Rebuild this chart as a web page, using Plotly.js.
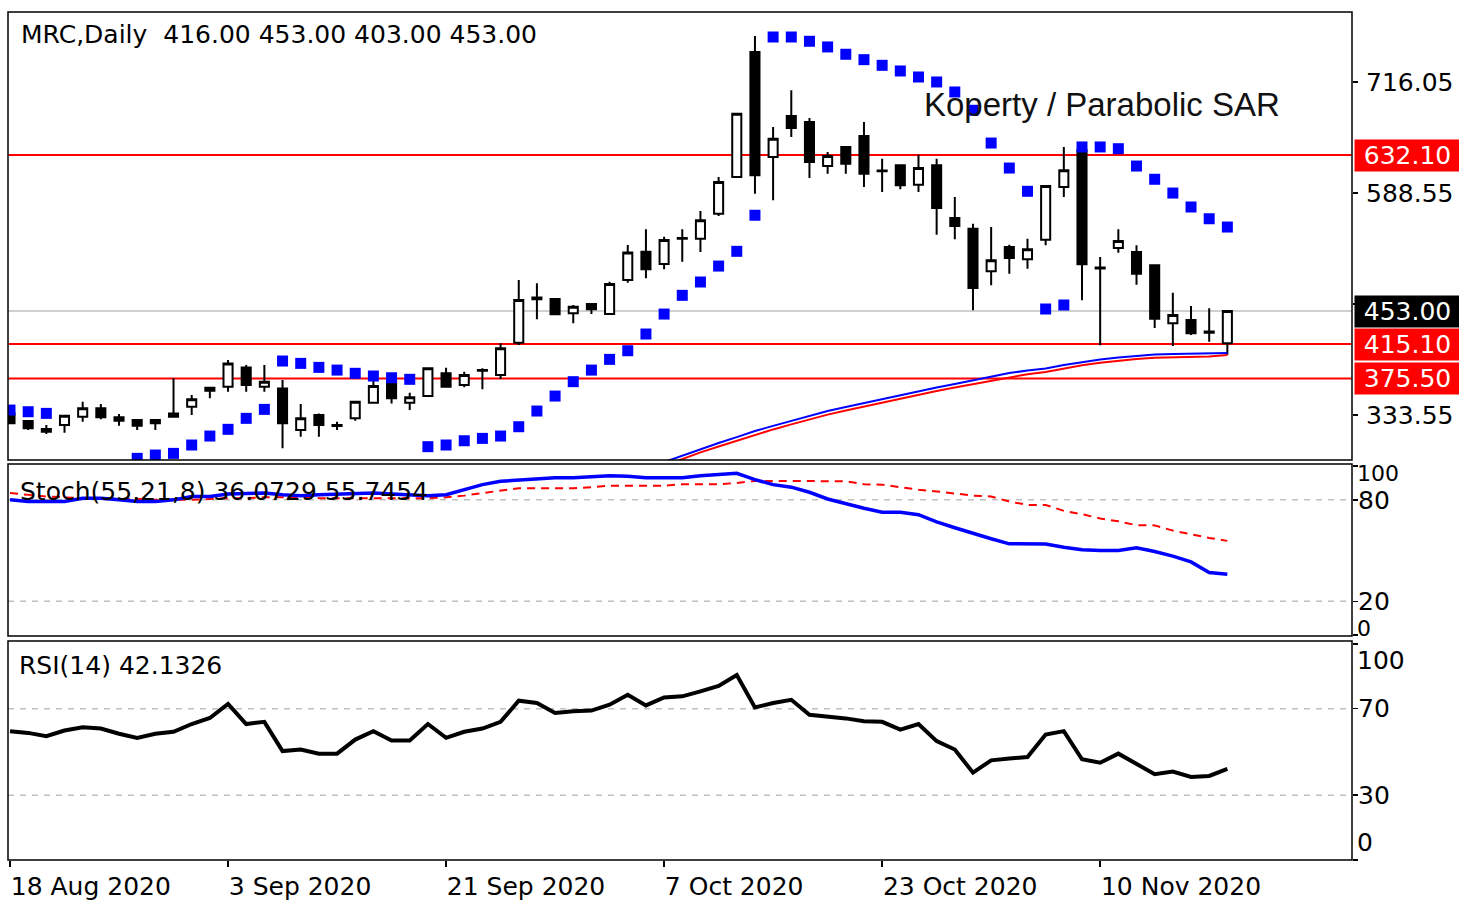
<!DOCTYPE html>
<html><head><meta charset="utf-8">
<script src="https://cdn.plot.ly/plotly-3.0.1.min.js"></script>
<style>html,body{margin:0;padding:0;background:#fff;}#chart{width:1459px;height:903px;}</style>
</head><body><div id="chart"></div>
<script>
const dates = ['2020-08-18','2020-08-19','2020-08-20','2020-08-21','2020-08-24','2020-08-25','2020-08-26','2020-08-27','2020-08-28','2020-08-31',
'2020-09-01','2020-09-02','2020-09-03','2020-09-04','2020-09-07','2020-09-08','2020-09-09','2020-09-10','2020-09-11','2020-09-14',
'2020-09-15','2020-09-16','2020-09-17','2020-09-18','2020-09-21','2020-09-22','2020-09-23','2020-09-24','2020-09-25','2020-09-28',
'2020-09-29','2020-09-30','2020-10-01','2020-10-02','2020-10-05','2020-10-06','2020-10-07','2020-10-08','2020-10-09','2020-10-12',
'2020-10-13','2020-10-14','2020-10-15','2020-10-16','2020-10-19','2020-10-20','2020-10-21','2020-10-22','2020-10-23','2020-10-26',
'2020-10-27','2020-10-28','2020-10-29','2020-10-30','2020-11-02','2020-11-03','2020-11-04','2020-11-05','2020-11-06','2020-11-09',
'2020-11-10','2020-11-12','2020-11-13','2020-11-16','2020-11-17','2020-11-18','2020-11-19','2020-11-20'];
const tickDates = ['2020-08-18','2020-09-03','2020-09-21','2020-10-07','2020-10-23','2020-11-10'];
const tickLabels = ['18 Aug 2020','3 Sep 2020','21 Sep 2020','7 Oct 2020','23 Oct 2020','10 Nov 2020'];

const open  = [335.6,326.8,317.6,322.2,331.7,341.4,331.1,327.9,327.9,335.6,
343.2,365.0,366.2,388.4,366.2,364.3,316.5,333.7,322.2,329.9,
347.8,371.9,347.8,355.5,381.6,368.1,385.5,379.6,416.7,468.5,
466.9,450.4,461.1,449.6,488.7,521.2,507.1,536.0,536.1,564.8,
606.9,750.4,629.9,676.9,670.1,619.5,641.4,654.0,614.5,620.3,
598.1,620.3,559.9,547.6,498.7,526.6,512.4,535.0,595.4,637.6,
503.0,525.4,520.8,505.5,439.0,442.8,429.5,416.0];
const high  = [336.5,327.5,322.2,333.5,348.9,346.3,334.8,328.5,328.5,375.8,
356.6,365.5,396.8,391.1,391.1,373.9,346.3,335.6,326.0,349.5,
375.8,377.6,359.3,388.0,388.0,383.4,387.3,416.0,488.7,484.9,
467.5,460.0,461.5,486.7,528.9,546.9,538.4,546.9,567.9,606.9,
680.5,768.8,664.3,706.4,674.6,635.6,642.0,670.1,627.9,620.8,
632.5,627.9,584.0,553.3,549.5,529.2,536.1,597.5,641.4,641.4,
515.1,546.9,528.5,506.0,474.1,458.8,456.2,453.0];
const low   = [323.0,316.5,311.9,313.4,326.0,328.8,321.4,316.5,316.5,330.5,
333.7,352.9,360.4,360.4,360.4,295.5,308.8,308.8,316.5,327.2,
347.0,347.0,339.4,355.0,365.8,365.5,363.2,375.0,414.0,443.6,
449.0,439.0,449.6,449.0,485.6,490.6,501.0,509.7,520.8,562.1,
606.0,587.8,580.2,652.8,605.8,610.7,610.7,595.4,589.7,592.8,
589.7,540.7,535.4,453.9,482.6,495.9,501.6,528.5,584.0,465.4,
413.7,520.0,483.3,433.6,412.9,425.5,417.9,403.0];
const close = [324.2,318.4,314.5,332.9,341.4,331.1,327.2,321.4,324.2,331.7,
351.7,361.6,393.0,368.1,372.0,324.2,329.9,322.2,321.0,349.0,
367.0,352.9,354.0,387.3,366.2,379.6,384.5,410.3,465.7,466.5,
449.3,458.0,455.0,484.1,520.4,501.0,534.6,537.0,557.2,601.2,
679.6,608.9,650.9,663.2,624.1,631.0,622.2,610.7,613.5,597.4,
617.2,571.3,550.7,479.5,511.3,514.0,523.9,596.6,614.6,506.7,
502.0,533.4,495.9,444.2,448.5,427.5,428.2,453.0];
const sar = [339.4,337.5,335.6,null,null,null,null,284.0,287.8,289.7,
299.3,309.6,317.3,329.9,340.2,395.7,393.0,388.4,385.3,381.6,
378.5,376.5,374.7,297.4,299.3,304.2,306.9,309.6,320.3,338.3,
355.5,372.0,385.3,397.6,407.5,426.7,449.6,471.1,486.4,504.7,
521.6,563.0,767.6,767.6,762.7,756.2,747.8,741.6,735.1,728.6,
721.7,716.0,704.5,683.5,645.9,617.2,590.5,455.4,460.0,641.4,
641.4,639.4,619.5,604.3,588.5,572.5,559.0,549.5];
const maBlue = [null,null,null,null,null,null,null,null,null,null,
null,null,null,null,null,null,null,null,null,null,
null,null,null,null,null,null,null,null,null,null,
null,null,null,null,null,null,279.7,287.2,294.7,301.6,
308.4,315.3,321.3,327.0,333.1,338.3,342.9,347.5,352.1,356.7,
361.3,365.3,369.3,373.3,377.3,381.9,384.8,387.1,391.1,394.6,
397.4,399.7,401.4,403.2,403.7,404.1,404.3,404.9];
const maRed = [null,null,null,null,null,null,null,null,null,null,
null,null,null,null,null,null,null,null,null,null,
null,null,null,null,null,null,null,null,null,null,
null,null,null,null,null,null,275.5,283.2,290.8,297.6,
304.3,311.1,317.2,323.0,328.9,334.2,338.8,343.4,348.0,352.6,
357.2,361.2,365.2,369.1,373.0,377.1,380.6,383.2,387.3,390.8,
393.6,396.0,397.9,399.6,400.1,400.5,400.8,402.5];
const stochMain = [80,79,79,79,81,81,80,79,79,80,
82,82,83.5,84,84,83,82.5,83,83.5,84,
84,83.5,83,82.5,83,86,89,91,91.8,92.5,
93.1,93.1,93.8,94.3,94,93.1,93.1,93.1,94.3,95.2,
95.7,92,89,87.5,84.5,80.5,77.5,75,72.7,72.7,
71.2,67,63.5,60,57,54,53.9,53.9,52,50.5,
50,50,51.6,49.5,46.7,43.3,37,36.07];
const stochSignal = [84,83,82,81.5,81,81,80.5,80.5,80,80,
80,80.5,81,81,81.5,81.5,81.5,81,81,81,
81,81,81,81,81.5,82.5,84,85.5,86.9,86.9,
86.9,86.9,87.5,88.4,88.4,88.4,88.4,89.2,89.2,89.2,
90,91.2,91.2,91.2,91.2,91.2,91,89.2,89,87.5,
86,85,83.9,82.5,82,79,77,77,73.5,71.5,
69,67.3,65,64.9,61.8,59.5,57.5,55.75];
const rsi = [59.6,58.8,57.3,59.9,61.4,60.8,58.4,56.5,58.4,59.3,
62.9,65.7,72.2,62.9,63.9,50.4,51.1,49.2,49.2,55.7,
59.6,55.3,55.3,62.9,56.5,59.3,60.8,63.9,73.7,72.6,
68.0,68.8,69.1,71.8,76.4,71.5,75.2,75.7,78.0,80.5,
85.6,70.6,72.6,74.1,67.2,66.5,65.5,64.2,63.9,60.3,
62.9,55.0,51.1,40.4,46.1,47.0,47.6,58.0,59.6,46.6,
45.0,49.2,44.6,39.7,40.9,38.4,38.9,42.13];

const redLevels = [632.10, 415.10, 375.50];
const lastPrice = 453.00;
const priceTicks = [333.55, 461.05, 588.55, 716.05];
const priceTickText = ['333.55', '', '588.55', '716.05'];
const stochLevels = [80, 20];
const rsiLevels = [70, 30];

const FONT = 'DejaVu Sans';

const traces = [
  {type:'scatter', mode:'lines', x:dates, y:maRed, xaxis:'x', yaxis:'y', line:{color:'#ff0000', width:2}, hoverinfo:'skip'},
  {type:'scatter', mode:'lines', x:dates, y:maBlue, xaxis:'x', yaxis:'y', line:{color:'#0000ff', width:2}, hoverinfo:'skip'},
  {type:'candlestick', x:dates, open:open, high:high, low:low, close:close, xaxis:'x', yaxis:'y',
   increasing:{line:{color:'#000', width:2}, fillcolor:'#ffffff'},
   decreasing:{line:{color:'#000', width:2}, fillcolor:'#000000'}, hoverinfo:'skip'},
  {type:'scatter', mode:'markers', x:dates, y:sar, xaxis:'x', yaxis:'y', marker:{symbol:'square', size:11, color:'#0000ff'}, hoverinfo:'skip'},
  {type:'scatter', mode:'lines', x:dates, y:stochSignal, xaxis:'x', yaxis:'y2', line:{color:'#ff0000', width:2, dash:'8px,6px'}, hoverinfo:'skip'},
  {type:'scatter', mode:'lines', x:dates, y:stochMain, xaxis:'x', yaxis:'y2', line:{color:'#0000ff', width:3.5}, hoverinfo:'skip'},
  {type:'scatter', mode:'lines', x:dates, y:rsi, xaxis:'x', yaxis:'y3', line:{color:'#000000', width:4}, hoverinfo:'skip'}
];

const shapes = [];
redLevels.forEach(v => shapes.push({type:'line', xref:'paper', x0:0, x1:1, yref:'y', y0:v, y1:v, line:{color:'#ff0000', width:2}, layer:'below'}));
shapes.push({type:'line', xref:'paper', x0:0, x1:1, yref:'y', y0:lastPrice, y1:lastPrice, line:{color:'#c0c0c0', width:1.5}, layer:'below'});
stochLevels.forEach(v => shapes.push({type:'line', xref:'paper', x0:0, x1:1, yref:'y2', y0:v, y1:v, line:{color:'#c0c0c0', width:1.5, dash:'6px,6px'}, layer:'below'}));
rsiLevels.forEach(v => shapes.push({type:'line', xref:'paper', x0:0, x1:1, yref:'y3', y0:v, y1:v, line:{color:'#c0c0c0', width:1.5, dash:'6px,6px'}, layer:'below'}));
['y domain','y2 domain','y3 domain'].forEach(r => shapes.push({type:'rect', xref:'paper', x0:0, x1:1, yref:r, y0:0, y1:1, line:{color:'#000', width:1.5}, fillcolor:'rgba(0,0,0,0)'}));

const annotations = [];
function boxLabel(val, bg) {
  annotations.push({xref:'paper', x:1, xanchor:'left', xshift:2, yref:'y', y:val, yanchor:'middle',
    text:val.toFixed(2), showarrow:false, bgcolor:bg, borderpad:0, width:105, height:31, align:'center',
    font:{family:FONT, size:25, color:'#ffffff'}});
}
redLevels.forEach(v => boxLabel(v, '#ff0000'));
boxLabel(lastPrice, '#000000');

annotations.push({xref:'paper', x:0.0082, xanchor:'left', yref:'paper', y:0.9729, yanchor:'middle', showarrow:false,
  text:'MRC,Daily\u00a0\u00a0416.00 453.00 403.00 453.00', font:{family:FONT, size:25, color:'#000'}});
annotations.push({xref:'paper', x:0.680, xanchor:'left', yref:'paper', y:0.8915, yanchor:'middle', showarrow:false,
  text:'Koperty / Parabolic SAR', font:{family:'Liberation Sans', size:33, color:'#111'}});
annotations.push({xref:'paper', x:0.0075, xanchor:'left', yref:'paper', y:0.4351, yanchor:'middle', showarrow:false,
  text:'Stoch(55,21,8) 36.0729 55.7454', font:{family:FONT, size:25, color:'#000'}});
annotations.push({xref:'paper', x:0.0068, xanchor:'left', yref:'paper', y:0.2288, yanchor:'middle', showarrow:false,
  text:'RSI(14) 42.1326', font:{family:FONT, size:25, color:'#000'}});
function sideLabel(text, yref, y, size) {
  annotations.push({xref:'paper', x:1, xanchor:'left', xshift:3, yref:yref, y:y, yanchor:'middle', showarrow:false,
    text:text, font:{family:FONT, size:size, color:'#000'}});
}
sideLabel('100', 'y2', 95.3, 22);
sideLabel('0', 'y2', 4.2, 22);
sideLabel('100', 'y3', 92.1, 25);
sideLabel('0', 'y3', 7.9, 25);

const yCommon = {side:'right', anchor:'x', tickmode:'array', ticks:'outside', ticklen:5, tickwidth:1.5, tickcolor:'#000',
  showgrid:false, zeroline:false, showline:false, fixedrange:true, tickfont:{family:FONT, size:25, color:'#000'}};

const layout = {
  width:1459, height:903,
  margin:{l:8, r:107, t:12, b:43},
  paper_bgcolor:'#ffffff', plot_bgcolor:'#ffffff',
  showlegend:false,
  font:{family:FONT, size:25, color:'#000'},
  boxmode:'overlay', boxgap:0.5, boxgroupgap:0,
  xaxis:{type:'category', range:[-0.11, 73.86], anchor:'y3', tickmode:'array', tickvals:tickDates, ticktext:tickLabels,
    ticks:'outside', ticklen:6, tickwidth:1.5, tickcolor:'#000', ticklabelposition:'outside right', ticklabelstandoff:4,
    showgrid:false, zeroline:false, showline:false, fixedrange:true, rangeslider:{visible:false},
    tickfont:{family:FONT, size:25, color:'#000'}},
  yaxis:Object.assign({}, yCommon, {domain:[0.4717, 1], range:[282.1, 796.3], tickvals:priceTicks, ticktext:priceTickText, ticklabelstandoff:3}),
  yaxis2:Object.assign({}, yCommon, {domain:[0.26415, 0.46698], range:[-0.5, 101.2], tickvals:[0,20,80,100], ticktext:['','20','80',''], ticklabelstandoff:-5}),
  yaxis3:Object.assign({}, yCommon, {domain:[0, 0.25825], range:[0, 101.3], tickvals:[0,30,70,100], ticktext:['','30','70',''], ticklabelstandoff:-5}),
  shapes:shapes,
  annotations:annotations
};

Plotly.newPlot('chart', traces, layout, {displayModeBar:false, staticPlot:true});
</script>
</body></html>
